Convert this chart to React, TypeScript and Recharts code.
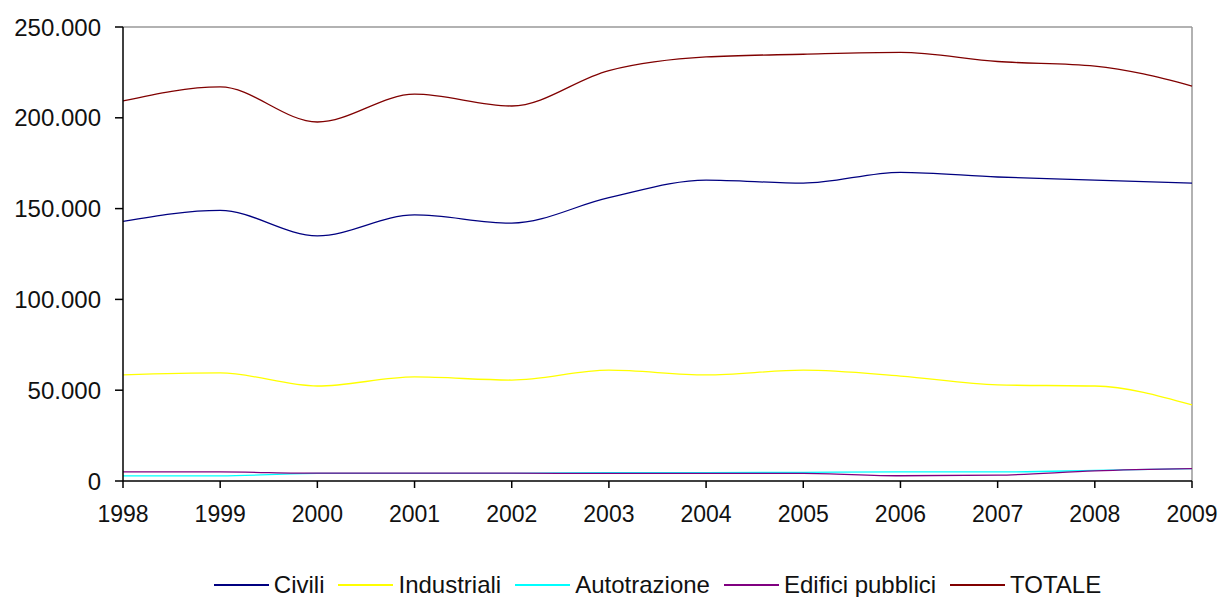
import { LineChart, Line, XAxis, YAxis, Legend, ReferenceLine } from "recharts";

const years = [1998, 1999, 2000, 2001, 2002, 2003, 2004, 2005, 2006, 2007, 2008, 2009];
const civili = [143000, 149000, 135000, 146500, 142000, 156000, 165700, 164000, 170000, 167400, 165700, 164000];
const industriali = [58400, 59500, 52300, 57300, 55600, 61000, 58400, 61000, 57800, 52900, 52300, 41900];
const autotrazione = [2800, 2800, 4200, 4200, 4200, 4600, 4600, 4800, 5000, 5000, 5800, 6800];
const edificiPubblici = [5000, 5000, 4300, 4300, 4300, 4200, 4200, 4200, 2900, 3200, 5600, 6800];
const totale = [209300, 217000, 197700, 213000, 206500, 226000, 233500, 235000, 236000, 231000, 228500, 217500];
const yTicks = [0, 50000, 100000, 150000, 200000, 250000];

const series = [
  { key: "civili", name: "Civili", color: "#000080", values: civili },
  { key: "industriali", name: "Industriali", color: "#ffff00", values: industriali },
  { key: "autotrazione", name: "Autotrazione", color: "#00ffff", values: autotrazione },
  { key: "edifici", name: "Edifici pubblici", color: "#800080", values: edificiPubblici },
  { key: "totale", name: "TOTALE", color: "#800000", values: totale },
];

const data = years.map((year, i) => {
  const row: Record<string, number> = { year };
  series.forEach((s) => {
    row[s.key] = s.values[i];
  });
  return row;
});

const font = '"Liberation Sans", Arial, sans-serif';
const fmt = (v: number) => String(v).replace(/\B(?=(\d{3})+(?!\d))/g, ".");

const xTickStyle = { fill: "#111", fontSize: 23, fontFamily: font };
const yTickStyle = { fill: "#111", fontSize: 24, fontFamily: font };

function LegendRow() {
  return (
    <div style={{ display: "flex", justifyContent: "center", alignItems: "center", fontFamily: font, fontSize: 24, color: "#111" }}>
      {series.map((s, i) => (
        <div key={s.key} style={{ display: "flex", alignItems: "center", marginRight: i < series.length - 1 ? 14 : 0 }}>
          <svg width={55} height={4} style={{ marginRight: 5 }}>
            <line x1={0} y1={2} x2={55} y2={2} stroke={s.color} strokeWidth={2} />
          </svg>
          <span>{s.name}</span>
        </div>
      ))}
    </div>
  );
}

export default function App() {
  return (
    <div style={{ position: "absolute", left: 0, top: 0, background: "#fff" }}>
      <LineChart width={1223} height={597} data={data} margin={{ top: 27, right: 31, bottom: 0, left: 0 }}>
        <XAxis
          dataKey="year"
          type="number"
          domain={[1998, 2009]}
          ticks={years}
          interval={0}
          height={116}
          tick={xTickStyle}
          tickSize={7}
          tickMargin={18}
          stroke="#000"
          strokeWidth={1.5}
        />
        <YAxis
          domain={[0, 250000]}
          ticks={yTicks}
          width={123}
          tick={yTickStyle}
          tickFormatter={fmt}
          tickSize={8}
          tickMargin={14}
          stroke="#000"
          strokeWidth={1.5}
        />
        <ReferenceLine y={250000} stroke="#999" strokeWidth={1.5} />
        <ReferenceLine x={2009} stroke="#999" strokeWidth={1.5} />
        {series.map((s) => (
          <Line
            key={s.key}
            type="monotone"
            dataKey={s.key}
            name={s.name}
            stroke={s.color}
            strokeWidth={1.3}
            dot={false}
            isAnimationActive={false}
          />
        ))}
        <Legend
          layout="horizontal"
          verticalAlign="middle"
          align="center"
          wrapperStyle={{ top: 571, left: 123, width: 1069 }}
          content={() => <LegendRow />}
        />
      </LineChart>
    </div>
  );
}
